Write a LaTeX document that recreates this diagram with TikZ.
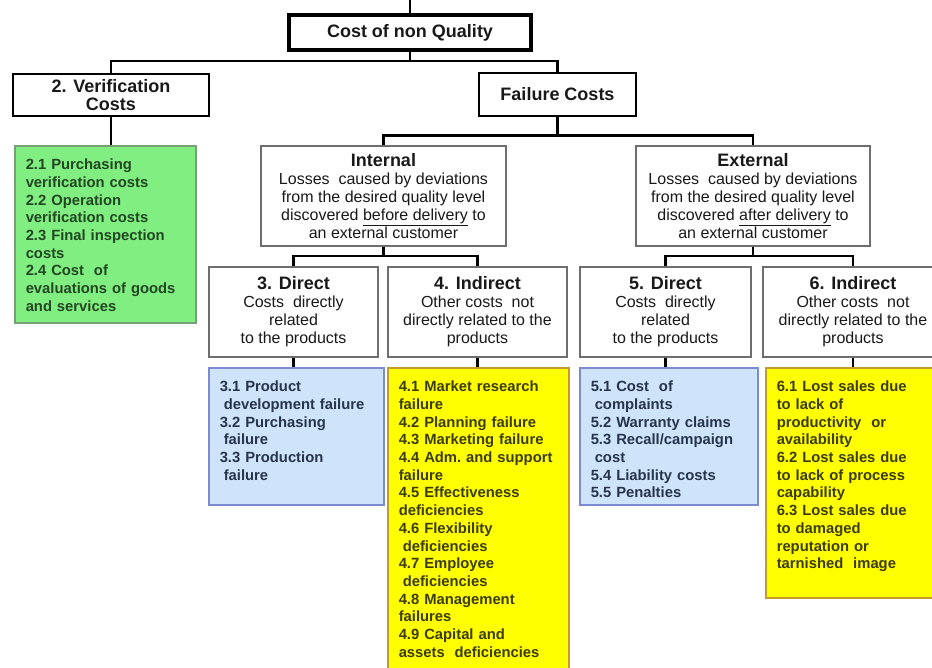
\documentclass[tikz,border=0pt]{standalone}
\usepackage{fontspec}
\setmainfont{Liberation Sans}
\definecolor{ink}{RGB}{25,25,25}
\definecolor{framegrey}{RGB}{110,110,110}
\definecolor{greenfill}{RGB}{128,238,128}
\definecolor{greenedge}{RGB}{120,160,120}
\definecolor{greenink}{RGB}{35,70,35}
\definecolor{bluefill}{RGB}{205,228,250}
\definecolor{blueedge}{RGB}{125,140,210}
\definecolor{blueink}{RGB}{40,52,75}
\definecolor{yellowfill}{RGB}{255,255,0}
\definecolor{yellowedge}{RGB}{195,155,45}
\definecolor{yellowink}{RGB}{60,60,10}
\tikzset{
  rootbox/.style = {draw=black, line width=4pt, font=\fontsize{18}{20}\selectfont\bfseries, text=ink},
  topbox/.style  = {draw=black, line width=2.5pt, font=\fontsize{18}{18}\selectfont\bfseries, text=ink, align=center},
  costbox/.style = {draw=framegrey, line width=2pt, fill=white, font=\fontsize{16}{18}\selectfont, text=ink, align=center},
  itembox/.style = {line width=1.5pt, anchor=north west, align=left, font=\fontsize{14.8}{17.7}\selectfont\bfseries,
                    text height=11pt, inner xsep=11pt, inner ysep=13pt},
  gitems/.style  = {itembox, draw=greenedge, fill=greenfill, text=greenink},
  bitems/.style  = {itembox, draw=blueedge, fill=bluefill, text=blueink},
  yitems/.style  = {itembox, draw=yellowedge, fill=yellowfill, text=yellowink},
  wire/.style    = {draw=black, line width=2.5pt},
}
\newcommand{\hd}[1]{{\fontsize{18}{18}\selectfont\bfseries #1}}
\newcommand{\ind}{\hspace*{4pt}}

\begin{document}
\begin{tikzpicture}[x=1pt, y=-1pt]
\useasboundingbox (0,0) rectangle (932,667);
\clip (0,0) rectangle (932,667);
\fill[white] (0,0) rectangle (932,667);

% ======================================================= top levels
\coordinate (top) at (410,0);
\node[rootbox, minimum width=242, minimum height=35] (title) at (410,32.5) {Cost of non Quality};
\node[topbox, minimum width=196, minimum height=42] (verif) at (111,95) {2. Verification\\ Costs};
\node[topbox, minimum width=157, minimum height=43] (fail) at (557.5,94.5) {Failure Costs};

\node[gitems, text width=159, text depth=140] (green) at (14,145)
  {2.1 Purchasing\\ verification costs\\ 2.2 Operation\\ verification costs\\ 2.3 Final inspection\\
   costs\\ 2.4 Cost\ \ of\\ evaluations of goods\\ and services};

% ======================================================= internal / external
\node[costbox, minimum width=245, minimum height=100] (int) at (383.5,196)
  {\hd{Internal}\\ Losses\ \ caused by deviations\\ from the desired quality level\\
   discovered \underline{before delivery} to\\ an external customer};
\node[costbox, minimum width=234, minimum height=100] (ext) at (753,196)
  {\hd{External}\\ Losses\ \ caused by deviations\\ from the desired quality level\\
   discovered \underline{after delivery} to\\ an external customer};

% ======================================================= direct / indirect
\node[costbox, minimum width=169, minimum height=90] (c3) at (293.5,312)
  {\hd{3. Direct}\\ Costs\ \ directly\\ related\\ to the products};
\node[costbox, minimum width=179, minimum height=90] (c4) at (477.5,312)
  {\hd{4. Indirect}\\ Other costs\ \ not\\ directly related to the\\ products};
\node[costbox, minimum width=171, minimum height=90] (c5) at (665.5,312)
  {\hd{5. Direct}\\ Costs\ \ directly\\ related\\ to the products};
\node[costbox, minimum width=180, minimum height=90] (c6) at (853,312)
  {\hd{6. Indirect}\\ Other costs\ \ not\\ directly related to the\\ products};

% ======================================================= item lists
\node[bitems, text width=153, text depth=100] (l3) at (208,367)
  {3.1 Product\\ \ind development failure\\ 3.2 Purchasing\\ \ind failure\\ 3.3 Production\\ \ind failure};
\node[yitems, text width=159, text depth=285] (l4) at (387,367)
  {4.1 Market research\\ failure\\ 4.2 Planning failure\\ 4.3 Marketing failure\\ 4.4 Adm.\ and support\\
   failure\\ 4.5 Effectiveness\\ deficiencies\\ 4.6 Flexibility\\ \ind deficiencies\\ 4.7 Employee\\
   \ind deficiencies\\ 4.8 Management\\ failures\\ 4.9 Capital and\\ assets\ \ deficiencies};
\node[bitems, text width=156, text depth=100] (l5) at (579,367)
  {5.1 Cost\ \ of\\ \ind complaints\\ 5.2 Warranty claims\\ 5.3 Recall/campaign\\ \ind cost\\
   5.4 Liability costs\\ 5.5 Penalties};
\node[yitems, text width=158, text depth=193] (l6) at (765,367)
  {6.1 Lost sales due\\ to lack of\\ productivity\ \ or\\ availability\\ 6.2 Lost sales due\\
   to lack of process\\ capability\\ 6.3 Lost sales due\\ to damaged\\ reputation or\\ tarnished\ \ image};

% ======================================================= connectors
\draw[wire] (top) -- (title);
\draw[wire] (title.south) -- ++(0,9) -| (verif.north);
\draw[wire] (title.south) -- ++(0,9) -| (fail.north);
\draw[wire] (verif.south) -- (verif.south |- green.north);
\draw[wire] (fail.south) -- ++(0,18) -| (int.north);
\draw[wire] (fail.south) -- ++(0,18) -| (ext.north);
\draw[wire] (int.south) -- ++(0,9) -| (c3.north);
\draw[wire] (int.south) -- ++(0,9) -| (c4.north);
\draw[wire] (ext.south) -- ++(0,9) -| (c5.north);
\draw[wire] (ext.south) -- ++(0,9) -| (c6.north);
\foreach \c/\l in {c3/l3, c4/l4, c5/l5, c6/l6}
  \draw[wire] (\c.south) -- (\c.south |- \l.north);

\end{tikzpicture}
\end{document}
